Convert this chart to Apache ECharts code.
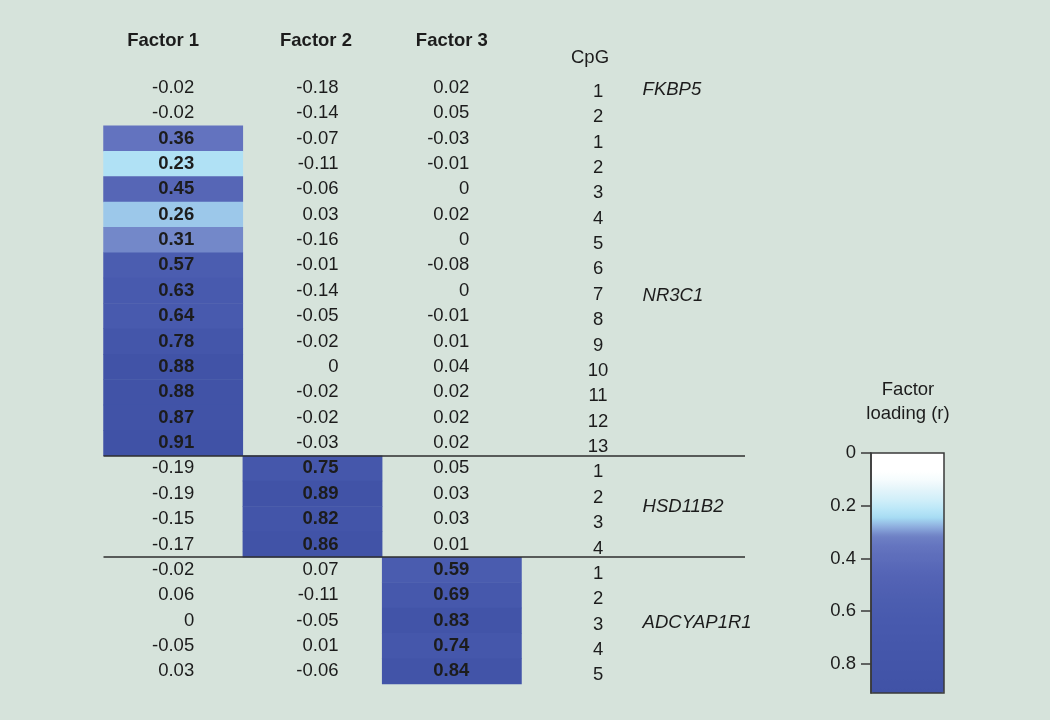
<!DOCTYPE html>
<html><head><meta charset="utf-8">
<script src="https://cdn.jsdelivr.net/npm/echarts@6/dist/echarts.min.js"></script>
<style>html,body{margin:0;padding:0;background:#d6e3db}#c{width:1050px;height:720px}</style>
</head><body><div id="c"></div>
<script>
// ---- data ----
const factors = ['Factor 1', 'Factor 2', 'Factor 3'];
const factor1 = [-0.02, -0.02, 0.36, 0.23, 0.45, 0.26, 0.31, 0.57, 0.63, 0.64, 0.78, 0.88, 0.88, 0.87, 0.91, -0.19, -0.19, -0.15, -0.17, -0.02, 0.06, 0, -0.05, 0.03];
const factor2 = [-0.18, -0.14, -0.07, -0.11, -0.06, 0.03, -0.16, -0.01, -0.14, -0.05, -0.02, 0, -0.02, -0.02, -0.03, 0.75, 0.89, 0.82, 0.86, 0.07, -0.11, -0.05, 0.01, -0.06];
const factor3 = [0.02, 0.05, -0.03, -0.01, 0, 0.02, 0, -0.08, 0, -0.01, 0.01, 0.04, 0.02, 0.02, 0.02, 0.05, 0.03, 0.03, 0.01, 0.59, 0.69, 0.83, 0.74, 0.84];
const cpgNumbers = [1, 2, 1, 2, 3, 4, 5, 6, 7, 8, 9, 10, 11, 12, 13, 1, 2, 3, 4, 1, 2, 3, 4, 5];
const genes = ['FKBP5', 'NR3C1', 'HSD11B2', 'ADCYAP1R1'];
const geneFirstRow = [0, 2, 15, 19];
const geneRowCount = [2, 13, 4, 5];
const geneLoadingFactor = [-1, 0, 1, 2];
const geneLabelRow = [0.6, 8.7, 17, 21.6];
const legendTicks = [0, 0.2, 0.4, 0.6, 0.8];
const loadingMax = 0.91;

// ---- style ----
const FONT = "'Liberation Sans', Arial, sans-serif";
const FS = 18.5;
const TXT = '#1c1c1c';
const labelRightOffset = [21, 26, 17.5]; // px from cell centre to right edge of numbers
const rampColors = ['#ffffff','#ffffff','#ffffff','#f4fbfd','#e3f4fa','#d2eff9','#bde8f8','#a6dcf3',
  '#8eaede','#6f82c5','#6575c0','#5f6fbc','#5a6ab9','#5565b6','#5262b4','#4f60b2','#4c5eb0','#4a5caf',
  '#485aae','#4759ad','#4658ac','#4557ab','#4456aa','#4355a9','#4254a8','#4153a7','#4052a6'];

const cols = [factor1, factor2, factor3];
const nRows = cpgNumbers.length;
const rowNames = cpgNumbers.map((c, i) => 'r' + i);
function geneOf(r) {
  for (let g = 0; g < genes.length; g++) if (r >= geneFirstRow[g] && r < geneFirstRow[g] + geneRowCount[g]) return g;
  return -1;
}
const hiData = [], loData = [];
for (let r = 0; r < nRows; r++) {
  const g = geneOf(r);
  for (let f = 0; f < 3; f++) {
    const v = cols[f][r];
    const item = { value: [f, r, v], label: { align: 'right', offset: [labelRightOffset[f], 0] } };
    if (geneLoadingFactor[g] === f) hiData.push(item); else loData.push(item);
  }
}
const cpgData = cpgNumbers.map((c, r) => ({ value: [3.55, r + 0.5], label: { formatter: String(c) } }));
const geneData = genes.map((g, i) => ({ value: [3.87, geneLabelRow[i]], label: { formatter: g } }));
const headerData = factors.map((f, i) => ({ value: f, textStyle: { padding: i === 0 ? [0, 20, 0, 0] : (i === 1 ? [0, 0, 0, 7] : 0) } }));

const TOP = 75, H = 609;
const chart = echarts.init(document.getElementById('c'), null, { renderer: 'canvas' });
chart.setOption({
  backgroundColor: '#d6e3db',
  animation: false,
  textStyle: { fontFamily: FONT },
  grid: [
    { left: 103.5, top: TOP, width: 418, height: H },
    { left: 103.5, top: TOP, width: 641.5, height: H },
    { left: 871, top: 453, width: 73, height: 240, show: true, borderColor: '#3a3a3a', borderWidth: 1.5, backgroundColor: 'transparent', z: 10 }
  ],
  xAxis: [
    { type: 'category', gridIndex: 0, data: headerData, position: 'top',
      axisLine: { show: false }, axisTick: { show: false }, splitLine: { show: false },
      axisLabel: { margin: 25, fontSize: FS, fontWeight: 'bold', color: TXT, fontFamily: FONT } },
    { type: 'value', gridIndex: 1, min: 0, max: 4.605, show: false },
    { type: 'value', gridIndex: 2, min: 0, max: 1, show: false }
  ],
  yAxis: [
    { type: 'category', gridIndex: 0, data: rowNames, inverse: true, show: false },
    { type: 'value', gridIndex: 1, min: 0, max: nRows, inverse: true, show: false },
    { type: 'value', gridIndex: 2, min: 0, max: loadingMax, inverse: true, position: 'left', z: 10,
      axisLine: { show: true, lineStyle: { color: '#3a3a3a', width: 1.5 } },
      axisTick: { show: true, length: 10, customValues: legendTicks, lineStyle: { color: '#3a3a3a', width: 1.5 } },
      axisLabel: { customValues: legendTicks, fontSize: FS, color: TXT, margin: 15, fontFamily: FONT },
      splitLine: { show: false } }
  ],
  visualMap: {
    type: 'continuous', seriesIndex: 0, min: 0, max: loadingMax, orient: 'vertical', inverse: true,
    left: 871, top: 453, itemWidth: 73, itemHeight: 240, padding: 0, calculable: false,
    text: null, hoverLink: false, inRange: { color: rampColors }
  },
  series: [
    { type: 'heatmap', xAxisIndex: 0, yAxisIndex: 0, data: hiData, silent: true,
      itemStyle: { borderWidth: 0 },
      label: { show: true, fontSize: FS, fontWeight: 'bold', color: TXT, fontFamily: FONT,
        formatter: p => String(p.value[2]) } },
    { type: 'scatter', xAxisIndex: 0, yAxisIndex: 0, data: loData, symbolSize: 0, silent: true,
      itemStyle: { opacity: 1 },
      label: { show: true, position: 'inside', fontSize: FS, color: TXT, fontFamily: FONT,
        formatter: p => String(p.value[2]) } },
    { type: 'scatter', xAxisIndex: 1, yAxisIndex: 1, data: cpgData, symbolSize: 0, silent: true,
      itemStyle: { opacity: 1 },
      label: { show: true, position: 'inside', offset: [0, 4], fontSize: FS, color: TXT, fontFamily: FONT } },
    { type: 'scatter', xAxisIndex: 1, yAxisIndex: 1, data: geneData, symbolSize: 0, silent: true,
      itemStyle: { opacity: 1 },
      label: { show: true, position: 'right', distance: 0, fontSize: FS, fontStyle: 'italic', color: TXT, fontFamily: FONT },
      markLine: { silent: true, symbol: 'none', animation: false,
        label: { show: false }, lineStyle: { color: '#2e2e2e', width: 1.5, type: 'solid', opacity: 1 },
        data: geneFirstRow.slice(2).map(r => ({ yAxis: r })) } }
  ],
  graphic: [
    { type: 'text', left: 571, top: 48, style: { text: 'CpG', font: `${FS}px ${FONT}`, fill: TXT } },
    { type: 'text', x: 908, y: 378,
      style: { text: 'Factor\nloading (r)', font: `${FS}px ${FONT}`, fill: TXT, align: 'center', lineHeight: 24 } }
  ]
});
</script></body></html>
